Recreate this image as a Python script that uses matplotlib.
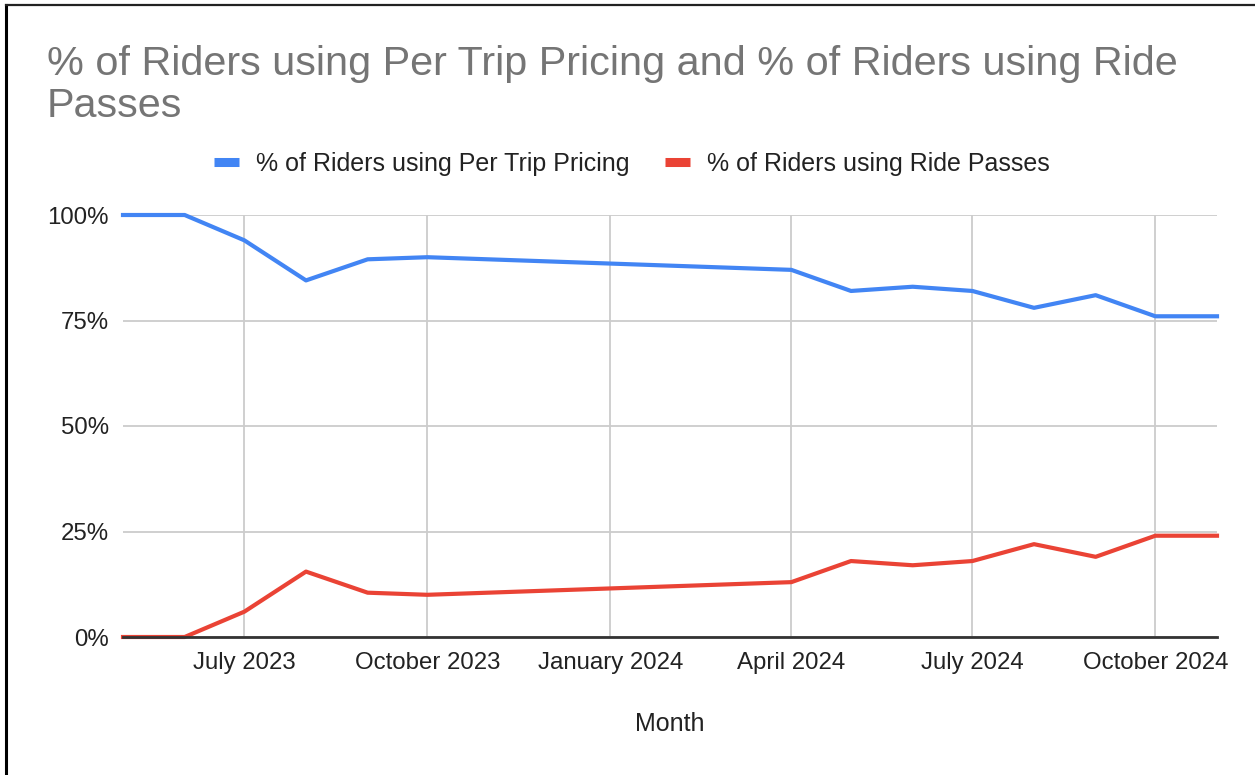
import matplotlib
matplotlib.use("Agg")
import matplotlib.pyplot as plt
import matplotlib.dates as mdates
from matplotlib.ticker import FixedLocator, FuncFormatter
from matplotlib.lines import Line2D
import datetime as dt

months = ["2023-05-01", "2023-06-01", "2023-07-01", "2023-08-01", "2023-09-01",
          "2023-10-01", "2024-04-01", "2024-05-01", "2024-06-01", "2024-07-01",
          "2024-08-01", "2024-09-01", "2024-10-01", "2024-11-01"]
per_trip = [100, 100, 94, 84.5, 89.5, 90, 87, 82, 83, 82, 78, 81, 76, 76]
ride_passes = [0, 0, 6, 15.5, 10.5, 10, 13, 18, 17, 18, 22, 19, 24, 24]
x_ticks = ["2023-07-01", "2023-10-01", "2024-01-01", "2024-04-01", "2024-07-01", "2024-10-01"]
x_tick_labels = ["July 2023", "October 2023", "January 2024", "April 2024", "July 2024", "October 2024"]
y_ticks = [0, 25, 50, 75, 100]

title_lines = ["% of Riders using Per Trip Pricing and % of Riders using Ride", "Passes"]
name1 = "% of Riders using Per Trip Pricing"
name2 = "% of Riders using Ride Passes"
x_title = "Month"

plt.rcParams['font.family'] = ['Liberation Sans', 'DejaVu Sans']

dates = [dt.datetime.strptime(m, "%Y-%m-%d") for m in months]
tick_dates = [mdates.date2num(dt.datetime.strptime(m, "%Y-%m-%d")) for m in x_ticks]

W, H = 1255, 775
fig = plt.figure(figsize=(W / 100, H / 100), dpi=100)
ax = fig.add_axes([123 / W, 1 - 637 / H, (1217 - 123) / W, (637 - 215) / H])

blue = "#4285F4"
red = "#EA4335"
ax.plot(dates, per_trip, color=blue, lw=3.0, solid_joinstyle='round', zorder=3, clip_on=False)
ax.plot(dates, ride_passes, color=red, lw=3.0, solid_joinstyle='round', zorder=3, clip_on=False)

ax.set_xlim(dates[0], dates[-1])
ax.set_ylim(0, 100)
ax.xaxis.set_major_locator(FixedLocator(tick_dates))
ax.set_xticklabels(x_tick_labels)
ax.set_yticks(y_ticks)
ax.yaxis.set_major_formatter(FuncFormatter(lambda v, p: f"{int(v)}%"))
ax.tick_params(axis='both', length=0, labelsize=17.3, colors="#222222")
ax.tick_params(axis='x', pad=11)
ax.tick_params(axis='y', pad=10)
ax.grid(True, color="#cccccc", lw=1.3)
ax.set_axisbelow(True)
for s in ["top", "right", "left"]:
    ax.spines[s].set_visible(False)
ax.spines["bottom"].set_color("#333333")
ax.spines["bottom"].set_linewidth(2)
ax.spines["bottom"].set_zorder(4)

ax.set_xlabel(x_title, fontsize=18, color="#222222", va="center")
ax.xaxis.set_label_coords(0.5, (637 - 724) / (637 - 215))

fig.text(47 / W, 1 - 75 / H, title_lines[0], fontsize=29.8, color="#757575",
         ha="left", va="baseline")
fig.text(47 / W, 1 - 117 / H, title_lines[1], fontsize=29.8, color="#757575",
         ha="left", va="baseline")

# Legend
handles = [Line2D([0], [0], color=blue, lw=6.5, solid_capstyle='butt'),
           Line2D([0], [0], color=red, lw=6.5, solid_capstyle='butt')]
leg = fig.legend(handles, [name1, name2], loc="center", bbox_to_anchor=(632 / W, 1 - 164 / H),
                 ncol=2, frameon=False, fontsize=18, handlelength=1.0, handletextpad=0.7,
                 columnspacing=1.4, borderpad=0, borderaxespad=0)
for t in leg.get_texts():
    t.set_color("#222222")

# Border
fig.add_artist(Line2D([6 / W, 6 / W], [0, 1 - 5 / H], color="black", lw=2.2, transform=fig.transFigure))
fig.add_artist(Line2D([6 / W, 1], [1 - 5 / H, 1 - 5 / H], color="#222222", lw=1.6, transform=fig.transFigure))

fig.savefig("out.png", dpi=100)
